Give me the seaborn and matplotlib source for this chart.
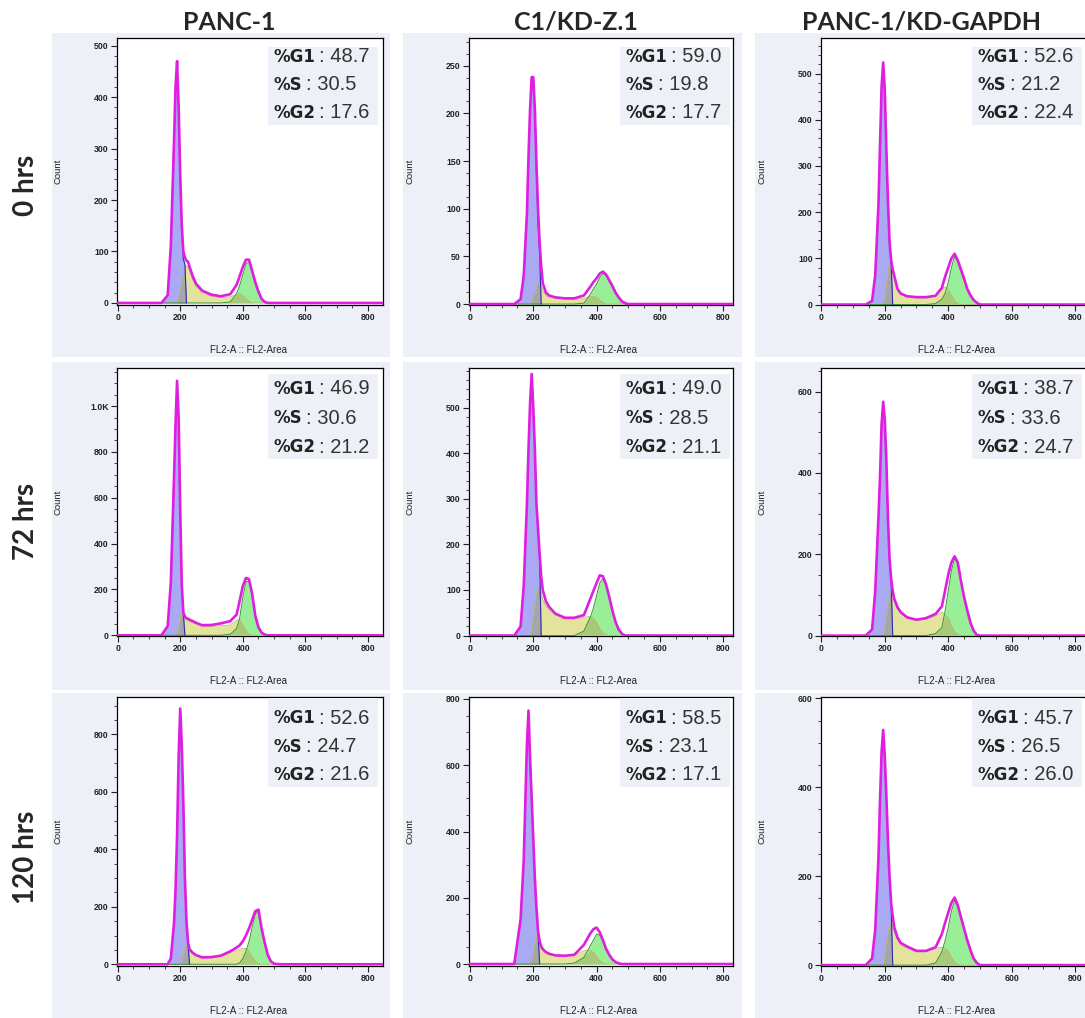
import numpy as np
import matplotlib
matplotlib.use("Agg")
import matplotlib.pyplot as plt
from matplotlib.patches import Rectangle
from matplotlib.ticker import MultipleLocator, AutoMinorLocator, FuncFormatter
import seaborn as sns

sns.set_theme(style="white")
plt.rcParams["font.family"] = ["Liberation Sans", "DejaVu Sans"]

cell_lines = ["PANC-1", "C1/KD-Z.1", "PANC-1/KD-GAPDH"]
time_points = ["0 hrs", "72 hrs", "120 hrs"]

fl2 = [0, 140, 160, 170, 180, 185, 190, 195, 200, 205,
       210, 215, 220, 225, 230, 240, 250, 270, 300, 330,
       360, 380, 390, 400, 410, 420, 430, 440, 450, 460,
       470, 480, 490, 500, 520, 850]

# ---- 0 hrs ----
panc_0h_total = [0, 0, 15, 110, 310, 420, 470, 380, 250, 150,
                 100, 88, 82, 80, 70, 52, 38, 24, 16, 13,
                 17, 35, 52, 70, 84, 84, 62, 40, 22, 8,
                 2, 0, 0, 0, 0, 0]
panc_0h_g1 = [0, 0, 14, 108, 305, 415, 465, 375, 245, 140,
              85, 75, 0, 0, 0, 0, 0, 0, 0, 0,
              0, 0, 0, 0, 0, 0, 0, 0, 0, 0,
              0, 0, 0, 0, 0, 0]
panc_0h_s = [0, 0, 0, 0, 0, 0, 0, 10, 25, 40,
             55, 68, 72, 70, 62, 46, 33, 20, 13, 10,
             12, 16, 18, 14, 8, 3, 0, 0, 0, 0,
             0, 0, 0, 0, 0, 0]
panc_0h_g2 = [0, 0, 0, 0, 0, 0, 0, 0, 0, 0,
              0, 0, 0, 0, 0, 0, 0, 0, 0, 0,
              2, 18, 34, 55, 76, 80, 60, 38, 20, 8,
              2, 0, 0, 0, 0, 0]

kdz_0h_total = [0, 0, 5, 30, 95, 155, 205, 238, 238, 205,
                148, 100, 65, 40, 22, 12, 9, 7, 6, 6,
                9, 18, 23, 27, 32, 34, 31, 25, 19, 12,
                7, 3, 1, 0, 0, 0]
kdz_0h_g1 = [0, 0, 5, 29, 93, 153, 203, 236, 236, 200,
             140, 85, 55, 0, 0, 0, 0, 0, 0, 0,
             0, 0, 0, 0, 0, 0, 0, 0, 0, 0,
             0, 0, 0, 0, 0, 0]
kdz_0h_s = [0, 0, 0, 0, 0, 0, 0, 3, 8, 12,
            17, 22, 25, 20, 14, 9, 7, 6, 5, 5,
            6, 8, 8, 7, 4, 2, 0, 0, 0, 0,
            0, 0, 0, 0, 0, 0]
kdz_0h_g2 = [0, 0, 0, 0, 0, 0, 0, 0, 0, 0,
             0, 0, 0, 0, 0, 0, 0, 0, 0, 0,
             1, 10, 16, 21, 28, 32, 30, 24, 18, 11,
             6, 2, 0, 0, 0, 0]

gapdh_0h_total = [0, 0, 8, 64, 216, 344, 472, 524, 464, 336,
                  224, 136, 96, 76, 62, 34, 24, 18, 16, 16,
                  19, 36, 60, 80, 100, 110, 96, 76, 56, 34,
                  20, 10, 4, 0, 0, 0]
gapdh_0h_g1 = [0, 0, 7, 62, 212, 340, 468, 520, 460, 332,
               220, 132, 92, 0, 0, 0, 0, 0, 0, 0,
               0, 0, 0, 0, 0, 0, 0, 0, 0, 0,
               0, 0, 0, 0, 0, 0]
gapdh_0h_s = [0, 0, 0, 0, 0, 0, 0, 0, 16, 40,
              68, 88, 84, 70, 58, 32, 22, 17, 14, 14,
              18, 36, 38, 32, 20, 8, 2, 0, 0, 0,
              0, 0, 0, 0, 0, 0]
gapdh_0h_g2 = [0, 0, 0, 0, 0, 0, 0, 0, 0, 0,
               0, 0, 0, 0, 0, 0, 0, 0, 0, 0,
               2, 12, 24, 48, 80, 104, 94, 74, 54, 34,
               19, 10, 3, 0, 0, 0]

# ---- 72 hrs ----
panc_72h_total = [0, 0, 40, 230, 680, 920, 1110, 950, 550, 220,
                  100, 81, 75, 72, 68, 62, 55, 44, 45, 52,
                  62, 90, 150, 215, 250, 245, 180, 85, 35, 12,
                  3, 0, 0, 0, 0, 0]
panc_72h_g1 = [0, 0, 38, 225, 670, 910, 1100, 940, 540, 210,
               95, 0, 0, 0, 0, 0, 0, 0, 0, 0,
               0, 0, 0, 0, 0, 0, 0, 0, 0, 0,
               0, 0, 0, 0, 0, 0]
panc_72h_s = [0, 0, 0, 0, 0, 0, 0, 30, 70, 110,
              100, 75, 68, 65, 60, 55, 50, 40, 38, 42,
              45, 65, 70, 45, 20, 5, 0, 0, 0, 0,
              0, 0, 0, 0, 0, 0]
panc_72h_g2 = [0, 0, 0, 0, 0, 0, 0, 0, 0, 0,
               0, 0, 0, 0, 0, 0, 0, 0, 0, 0,
               5, 30, 75, 165, 235, 235, 175, 78, 33, 11,
               3, 0, 0, 0, 0, 0]

kdz_72h_total = [0, 0, 20, 110, 290, 410, 510, 574, 500, 410,
                 290, 235, 180, 130, 100, 75, 63, 48, 39, 39,
                 45, 80, 98, 115, 132, 130, 112, 85, 55, 30,
                 13, 4, 0, 0, 0, 0]
kdz_72h_g1 = [0, 0, 19, 108, 285, 405, 505, 570, 495, 405,
              285, 230, 175, 0, 0, 0, 0, 0, 0, 0,
              0, 0, 0, 0, 0, 0, 0, 0, 0, 0,
              0, 0, 0, 0, 0, 0]
kdz_72h_s = [0, 0, 0, 0, 0, 0, 0, 15, 40, 65,
             90, 105, 108, 95, 78, 65, 56, 45, 36, 36,
             40, 42, 38, 28, 15, 6, 2, 0, 0, 0,
             0, 0, 0, 0, 0, 0]
kdz_72h_g2 = [0, 0, 0, 0, 0, 0, 0, 0, 0, 0,
              0, 0, 0, 0, 0, 0, 0, 0, 0, 0,
              10, 40, 60, 88, 115, 125, 110, 84, 55, 30,
              13, 4, 0, 0, 0, 0]

gapdh_72h_total = [0, 0, 15, 110, 290, 390, 520, 575, 530, 432,
                   290, 190, 140, 110, 90, 70, 58, 45, 39, 43,
                   53, 72, 110, 150, 180, 195, 180, 135, 95, 62,
                   32, 12, 2, 0, 0, 0]
gapdh_72h_g1 = [0, 0, 14, 108, 285, 385, 515, 570, 525, 425,
                285, 185, 135, 0, 0, 0, 0, 0, 0, 0,
                0, 0, 0, 0, 0, 0, 0, 0, 0, 0,
                0, 0, 0, 0, 0, 0]
gapdh_72h_s = [0, 0, 0, 0, 0, 0, 0, 0, 20, 45,
               70, 95, 110, 100, 85, 66, 55, 43, 37, 40,
               48, 58, 50, 45, 25, 10, 3, 0, 0, 0,
               0, 0, 0, 0, 0, 0]
gapdh_72h_g2 = [0, 0, 0, 0, 0, 0, 0, 0, 0, 0,
                0, 0, 0, 0, 0, 0, 0, 0, 0, 0,
                5, 20, 60, 110, 160, 190, 178, 134, 94, 60,
                31, 12, 2, 0, 0, 0]

# ---- 120 hrs ----
panc_120h_total = [0, 0, 0, 20, 140, 256, 450, 722, 890, 760,
                   560, 300, 150, 75, 52, 40, 32, 24, 25, 30,
                   45, 58, 66, 80, 100, 125, 155, 185, 190, 125,
                   75, 32, 10, 2, 0, 0]
panc_120h_g1 = [0, 0, 0, 19, 138, 252, 445, 715, 880, 750,
                550, 295, 145, 70, 0, 0, 0, 0, 0, 0,
                0, 0, 0, 0, 0, 0, 0, 0, 0, 0,
                0, 0, 0, 0, 0, 0]
panc_120h_s = [0, 0, 0, 0, 0, 0, 0, 0, 0, 15,
               35, 55, 72, 70, 50, 38, 30, 22, 22, 27,
               40, 48, 52, 55, 55, 45, 25, 10, 3, 0,
               0, 0, 0, 0, 0, 0]
panc_120h_g2 = [0, 0, 0, 0, 0, 0, 0, 0, 0, 0,
                0, 0, 0, 0, 0, 0, 0, 0, 0, 0,
                0, 0, 5, 20, 45, 80, 130, 175, 185, 125,
                75, 32, 10, 2, 0, 0]

kdz_120h_total = [0, 0, 135, 316, 665, 765, 620, 500, 380, 260,
                  170, 100, 70, 53, 45, 36, 31, 26, 25, 28,
                  58, 92, 105, 110, 96, 72, 46, 28, 14, 6,
                  2, 0, 0, 0, 0, 0]
kdz_120h_g1 = [0, 0, 133, 313, 660, 760, 612, 492, 372, 255,
               165, 100, 0, 0, 0, 0, 0, 0, 0, 0,
               0, 0, 0, 0, 0, 0, 0, 0, 0, 0,
               0, 0, 0, 0, 0, 0]
kdz_120h_s = [0, 0, 0, 0, 0, 0, 0, 15, 35, 60,
              85, 100, 75, 55, 45, 35, 30, 25, 24, 27,
              40, 42, 35, 22, 10, 3, 0, 0, 0, 0,
              0, 0, 0, 0, 0, 0]
kdz_120h_g2 = [0, 0, 0, 0, 0, 0, 0, 0, 0, 0,
               0, 0, 0, 0, 0, 0, 0, 0, 0, 3,
               20, 55, 72, 90, 88, 70, 45, 27, 14, 6,
               2, 0, 0, 0, 0, 0]

gapdh_120h_total = [0, 0, 15, 80, 240, 370, 480, 529, 470, 380,
                    280, 200, 140, 110, 85, 62, 50, 42, 32, 32,
                    40, 70, 95, 118, 140, 152, 135, 108, 82, 56,
                    34, 15, 5, 0, 0, 0]
gapdh_120h_g1 = [0, 0, 14, 78, 235, 365, 475, 520, 465, 375,
                 275, 195, 135, 0, 0, 0, 0, 0, 0, 0,
                 0, 0, 0, 0, 0, 0, 0, 0, 0, 0,
                 0, 0, 0, 0, 0, 0]
gapdh_120h_s = [0, 0, 0, 0, 0, 0, 0, 0, 20, 45,
                70, 88, 95, 90, 75, 58, 46, 38, 30, 30,
                38, 40, 38, 32, 18, 7, 2, 0, 0, 0,
                0, 0, 0, 0, 0, 0]
gapdh_120h_g2 = [0, 0, 0, 0, 0, 0, 0, 0, 0, 0,
                 0, 0, 0, 0, 0, 0, 0, 0, 0, 0,
                 5, 30, 55, 85, 122, 145, 132, 106, 80, 55,
                 33, 14, 5, 0, 0, 0]

# cell cycle percentages, rows = time points, cols = cell lines
pct_g1 = [[48.7, 59.0, 52.6], [46.9, 49.0, 38.7], [52.6, 58.5, 45.7]]
pct_s = [[30.5, 19.8, 21.2], [30.6, 28.5, 33.6], [24.7, 23.1, 26.5]]
pct_g2 = [[17.6, 17.7, 22.4], [21.2, 21.1, 24.7], [21.6, 17.1, 26.0]]

panels = [
    [(panc_0h_total, panc_0h_g1, panc_0h_s, panc_0h_g2),
     (kdz_0h_total, kdz_0h_g1, kdz_0h_s, kdz_0h_g2),
     (gapdh_0h_total, gapdh_0h_g1, gapdh_0h_s, gapdh_0h_g2)],
    [(panc_72h_total, panc_72h_g1, panc_72h_s, panc_72h_g2),
     (kdz_72h_total, kdz_72h_g1, kdz_72h_s, kdz_72h_g2),
     (gapdh_72h_total, gapdh_72h_g1, gapdh_72h_s, gapdh_72h_g2)],
    [(panc_120h_total, panc_120h_g1, panc_120h_s, panc_120h_g2),
     (kdz_120h_total, kdz_120h_g1, kdz_120h_s, kdz_120h_g2),
     (gapdh_120h_total, gapdh_120h_g1, gapdh_120h_s, gapdh_120h_g2)],
]

# layout in pixels
W, H = 1085, 1018
ax_left = [117, 469, 821]
ax_width = [266, 264, 270]
ax_top = [38, 368, 697]
ax_bottom = [305, 636, 966]
x_lims = [(-2, 848), (-3, 831), (-1, 850)]
y_lims = [[(-4, 515), (-1, 279), (-1, 577)],
          [(-3, 1166), (-1, 587), (-1, 658)],
          [(-6, 930), (-6, 806), (-2, 603)]]
y_steps = [[100, 50, 100], [200, 100, 200], [200, 200, 200]]
box_x = [(52, 390), (403, 742), (755, 1085)]
box_y = [(33, 357), (362, 690), (693, 1018)]
stat_top = [9, 6, 1]
stat_bot = [87, 91, 90]
stat_rows = [[19, 47, 75], [21, 50, 79], [21, 50, 78]]

BG = "#edf1f7"
BLUE = "#a9a9f4"
GREY = "#a6a6a6"
YELLOW = "#e3e39c"
GREEN = "#98ef98"
OLIVE = "#a9c97a"
MAGENTA = "#e01ee0"


def fx(px):
    return px / W


def fy(py):
    return 1 - py / H


fig = plt.figure(figsize=(W / 100, H / 100), dpi=100)

for (x0, x1) in box_x:
    for (y0, y1) in box_y:
        fig.add_artist(Rectangle((fx(x0), fy(y1)), (x1 - x0) / W, (y1 - y0) / H,
                                 transform=fig.transFigure, facecolor=BG,
                                 edgecolor="none", zorder=0))

x = np.array(fl2, dtype=float)

for r in range(3):
    for c in range(3):
        total, g1, s, g2 = [np.array(v, dtype=float) for v in panels[r][c]]
        l, w = ax_left[c], ax_width[c]
        t, b = ax_top[r], ax_bottom[r]
        ax = fig.add_axes([fx(l), fy(b), w / W, (b - t) / H])
        ax.set_facecolor("white")

        ax.fill_between(x, 0, s, color=YELLOW, lw=0, zorder=1)
        ax.fill_between(x, 0, g2, color=GREEN, lw=0, zorder=2)
        ax.fill_between(x, 0, np.minimum(s, g2), color=OLIVE, lw=0, zorder=3)
        ax.fill_between(x, 0, g1, color=BLUE, lw=0, zorder=4)
        ax.fill_between(x, 0, np.minimum(s, g1), color=GREY, lw=0, zorder=5)
        ax.plot(x, s, color="#b9b96a", lw=0.6, zorder=6)
        ax.plot(x, g2, color="#3d8f3d", lw=0.7, zorder=6)
        # G1 outline only over its own peak
        last = np.nonzero(g1)[0].max() + 1
        ax.plot(x[1:last + 1], g1[1:last + 1], color="#2b2bb5", lw=0.8, zorder=6)
        sns.lineplot(x=x, y=total, color=MAGENTA, lw=1.9, ax=ax, zorder=8,
                     estimator=None, sort=False)

        ax.set_xlim(*x_lims[c])
        ax.set_ylim(*y_lims[r][c])
        ax.set_xticks([0, 200, 400, 600, 800])
        ax.xaxis.set_minor_locator(AutoMinorLocator(4))
        ax.yaxis.set_major_locator(MultipleLocator(y_steps[r][c]))
        ax.yaxis.set_minor_locator(AutoMinorLocator(5 if y_steps[r][c] == 100 else 4))
        ax.yaxis.set_major_formatter(FuncFormatter(
            lambda v, _: "1.0K" if v >= 1000 else f"{int(v)}"))
        ax.tick_params(which="both", bottom=True, left=True, direction="out",
                       colors="#222222")
        ax.tick_params(which="major", length=4, width=0.8, labelsize=6.3, pad=2)
        ax.tick_params(which="minor", length=2, width=0.6)
        for lab in ax.get_xticklabels() + ax.get_yticklabels():
            lab.set_fontweight("bold")
        ax.set_xlabel("")
        ax.set_ylabel("")
        for sp in ax.spines.values():
            sp.set_color("black")
            sp.set_linewidth(0.9)

        # stats box
        bx1 = l + 261
        bx0 = bx1 - 110
        ax.add_artist(Rectangle((fx(bx0), fy(t + stat_bot[r])), 110 / W,
                                (stat_bot[r] - stat_top[r]) / H,
                                transform=fig.transFigure, facecolor=BG,
                                edgecolor="none", zorder=9))
        labels = ["%G1", "%S", "%G2"]
        values = [pct_g1[r][c], pct_s[r][c], pct_g2[r][c]]
        for k in range(3):
            lab = fig.text(fx(bx0 + 5), fy(t + stat_rows[r][k]), labels[k],
                           fontsize=12, fontweight="bold", color="#222222",
                           family=["DejaVu Sans"], va="center", ha="left", zorder=10)
            ax.annotate(f": {values[k]:.1f}", xy=(1, 0.5), xycoords=lab,
                        xytext=(3, 0), textcoords="offset points",
                        va="center", ha="left", fontsize=14.5,
                        color="#333333", annotation_clip=False, zorder=10)

        fig.text(fx(l - 59), fy((t + b) / 2), "Count", rotation=90,
                 fontsize=6.8, va="center", ha="center", color="#222222")
        fig.text(fx(l + w / 2 - (2 if c < 2 else 0)), fy(b + 45), "FL2-A :: FL2-Area",
                 fontsize=7, va="center", ha="center", color="#222222")

title_x = [229, 576, 921]
for c in range(3):
    fig.text(fx(title_x[c]), fy(22), cell_lines[c], fontsize=18, fontweight="bold",
             family=["Lato", "DejaVu Sans"], ha="center", va="center")

row_y = [185, 521, 857]
for r in range(3):
    fig.text(fx(26), fy(row_y[r]), time_points[r], fontsize=20, fontweight="bold",
             family=["Lato", "DejaVu Sans"], rotation=90, ha="center", va="center")

fig.savefig("out.png", dpi=100)
